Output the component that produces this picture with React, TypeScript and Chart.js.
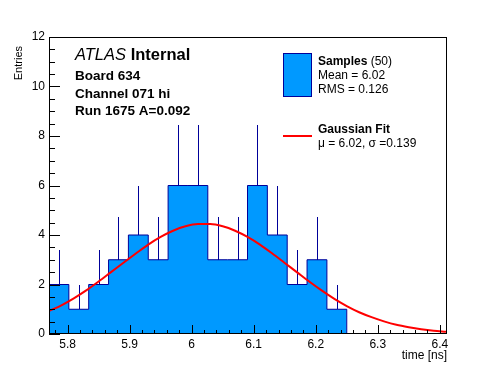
import React, { useEffect, useRef } from "react";
import { Chart, registerables } from "chart.js";

Chart.register(...registerables);

// ---- data ----
const BIN_LOW_EDGES = [5.770, 5.802, 5.834, 5.866, 5.898, 5.930, 5.962, 5.994, 6.026, 6.058, 6.090, 6.122, 6.154, 6.186, 6.218];
const BIN_WIDTH = 0.032;
const BIN_COUNTS = [2, 1, 2, 3, 4, 3, 6, 6, 3, 3, 6, 4, 2, 3, 1];
const BIN_ERRORS = [1.41, 1.0, 1.41, 1.73, 2.0, 1.73, 2.45, 2.45, 1.73, 1.73, 2.45, 2.0, 1.41, 1.73, 1.0];

const FIT_X = [5.77, 5.79, 5.81, 5.83, 5.85, 5.87, 5.89, 5.91, 5.93, 5.95, 5.97, 5.99, 6.01, 6.03, 6.05, 6.07, 6.09, 6.11, 6.13, 6.15, 6.17, 6.19, 6.21, 6.23, 6.25, 6.27, 6.29, 6.31, 6.33, 6.35, 6.37, 6.39, 6.41];
const FIT_Y = [0.93, 1.16, 1.44, 1.76, 2.12, 2.50, 2.88, 3.25, 3.61, 3.92, 4.17, 4.35, 4.44, 4.44, 4.35, 4.17, 3.92, 3.61, 3.25, 2.87, 2.49, 2.11, 1.75, 1.42, 1.13, 0.88, 0.68, 0.51, 0.37, 0.27, 0.19, 0.13, 0.09];

const X_TICKS = [5.8, 5.9, 6.0, 6.1, 6.2, 6.3, 6.4];
const Y_TICKS = [0, 2, 4, 6, 8, 10, 12];
const X_MIN = 5.77;
const X_MAX = 6.41;
const Y_MIN = 0;
const Y_MAX = 12;

const HEADER_LINES = ["Board 634", "Channel 071 hi", "Run 1675 A=0.092"];
const LEGEND_HIST = { name: "Samples", count: "(50)", mean: "Mean = 6.02", rms: "RMS = 0.126" };
const LEGEND_FIT = { name: "Gaussian Fit", params: "\u03BC = 6.02, \u03C3 =0.139" };

const FILL = "#0099ff";
const NAVY = "#000099";
const FONT = "'Liberation Sans', Arial, Helvetica, sans-serif";

const decorPlugin = {
  id: "rootDecor",
  afterDatasetDraw(chart: any, args: any) {
    // error bars drawn just after the histogram (index 2), below the fit curve
    if (args.index !== 2) return;
    const ctx = chart.ctx as CanvasRenderingContext2D;
    const xs = chart.scales.x;
    const ys = chart.scales.y;
    ctx.save();
    ctx.strokeStyle = NAVY;
    ctx.lineWidth = 1;
    ctx.beginPath();
    BIN_COUNTS.forEach((c, i) => {
      const cx = Math.round(xs.getPixelForValue(BIN_LOW_EDGES[i] + BIN_WIDTH / 2)) + 0.5;
      const y0 = Math.round(ys.getPixelForValue(c));
      const y1 = Math.round(ys.getPixelForValue(c + BIN_ERRORS[i]));
      ctx.moveTo(cx, y0);
      ctx.lineTo(cx, y1);
    });
    ctx.stroke();
    ctx.restore();
  },
  afterDraw(chart: any) {
    const ctx = chart.ctx as CanvasRenderingContext2D;
    const { left, right, top, bottom } = chart.chartArea;
    const xs = chart.scales.x;
    const ys = chart.scales.y;
    ctx.save();
    // frame
    ctx.strokeStyle = "#000";
    ctx.lineWidth = 1;
    ctx.strokeRect(left + 0.5, top + 0.5, right - left, bottom - top - 1);
    // x ticks (inside)
    ctx.beginPath();
    for (let i = 0; i <= 32; i++) {
      const v = X_MIN + 0.01 + i * 0.02;
      if (v > X_MAX) break;
      const px = Math.round(xs.getPixelForValue(v)) + 0.5;
      const major = X_TICKS.some((t) => Math.abs(t - v) < 1e-6);
      const len = major ? 9 : 4;
      ctx.moveTo(px, bottom);
      ctx.lineTo(px, bottom - len);
    }
    // y ticks
    for (let i = 0; i <= 24; i++) {
      const v = i * 0.5;
      const py = Math.round(ys.getPixelForValue(v)) + 0.5;
      const major = Y_TICKS.includes(v);
      const len = major ? 11 : 6;
      ctx.moveTo(left, py);
      ctx.lineTo(left + len, py);
    }
    ctx.stroke();

    // axis titles
    ctx.fillStyle = "#000";
    ctx.font = `12px ${FONT}`;
    ctx.textAlign = "right";
    ctx.textBaseline = "alphabetic";
    ctx.fillText("time [ns]", right + 1, 359);
    ctx.save();
    ctx.translate(22, 46);
    ctx.rotate(-Math.PI / 2);
    ctx.font = `11px ${FONT}`;
    ctx.textAlign = "right";
    ctx.fillText("Entries", 0, 0);
    ctx.restore();

    // header
    ctx.textAlign = "left";
    ctx.font = `italic 16.5px ${FONT}`;
    ctx.fillText("ATLAS", 75, 60);
    const w = ctx.measureText("ATLAS ").width;
    ctx.font = `bold 16.5px ${FONT}`;
    ctx.fillText("Internal", 75 + w, 60);
    ctx.font = `bold 13.5px ${FONT}`;
    HEADER_LINES.forEach((t, i) => ctx.fillText(t, 75, 80 + i * 17.5));

    // legend
    ctx.fillStyle = FILL;
    ctx.fillRect(283, 53, 29, 44);
    ctx.strokeStyle = NAVY;
    ctx.strokeRect(283.5, 53.5, 28, 43);
    ctx.fillStyle = "#000";
    ctx.font = `bold 12px ${FONT}`;
    ctx.fillText(LEGEND_HIST.name, 318, 65);
    const w2 = ctx.measureText(LEGEND_HIST.name + " ").width;
    ctx.font = `12px ${FONT}`;
    ctx.fillText(LEGEND_HIST.count, 318 + w2, 65);
    ctx.fillText(LEGEND_HIST.mean, 318, 79);
    ctx.fillText(LEGEND_HIST.rms, 318, 93);

    ctx.strokeStyle = "#ff0000";
    ctx.lineWidth = 2;
    ctx.beginPath();
    ctx.moveTo(283, 136);
    ctx.lineTo(312, 136);
    ctx.stroke();
    ctx.font = `bold 12px ${FONT}`;
    ctx.fillText(LEGEND_FIT.name, 318, 133);
    ctx.font = `12px ${FONT}`;
    ctx.fillText(LEGEND_FIT.params, 318, 147);
    ctx.restore();
  },
};

export default function App() {
  const ref = useRef<HTMLCanvasElement>(null);
  useEffect(() => {
    if (!ref.current) return;
    const n = BIN_COUNTS.length;
    const lastEdge = BIN_LOW_EDGES[n - 1] + BIN_WIDTH;
    const histData: any[] = [{ x: BIN_LOW_EDGES[0], y: 0 }];
    BIN_COUNTS.forEach((c, i) => histData.push({ x: BIN_LOW_EDGES[i], y: c }));
    histData.push({ x: lastEdge, y: BIN_COUNTS[n - 1] });
    histData.push({ x: lastEdge, y: 0 });

    const fitData = FIT_X.map((x, i) => ({ x, y: FIT_Y[i] }));

    Chart.defaults.font.family = FONT;
    const chart = new Chart(ref.current, {
      type: "line",
      data: {
        datasets: [
          {
            label: "fit",
            data: fitData,
            borderColor: "#ff0000",
            borderWidth: 2,
            pointRadius: 0,
            cubicInterpolationMode: "monotone",
            fill: false,
            order: 0,
          } as any,
          {
            label: "unused",
            data: [],
            order: 1,
          } as any,
          {
            label: "hist",
            data: histData,
            borderColor: NAVY,
            borderWidth: 1,
            backgroundColor: FILL,
            pointRadius: 0,
            stepped: true,
            fill: "origin",
            order: 2,
          } as any,
        ],
      },
      options: {
        animation: false,
        responsive: false,
        devicePixelRatio: 1,
        layout: { padding: { left: 0, top: 37, right: 50, bottom: 0 } },
        plugins: { legend: { display: false }, tooltip: { enabled: false } },
        scales: {
          x: {
            type: "linear",
            min: X_MIN,
            max: X_MAX,
            grid: { display: false, drawTicks: false },
            border: { display: false },
            afterBuildTicks: (s: any) => {
              s.ticks = X_TICKS.map((v) => ({ value: v }));
            },
            afterFit: (s: any) => {
              s.height = 38;
            },
            ticks: {
              padding: 3,
              color: "#000",
              font: { size: 12, family: FONT },
              maxRotation: 0,
              autoSkip: false,
              callback: (v: any) => String(Math.round(Number(v) * 10) / 10),
            },
          },
          y: {
            type: "linear",
            min: Y_MIN,
            max: Y_MAX,
            grid: { display: false, drawTicks: false },
            border: { display: false },
            afterBuildTicks: (s: any) => {
              s.ticks = Y_TICKS.map((v) => ({ value: v }));
            },
            afterFit: (s: any) => {
              s.width = 49;
            },
            ticks: {
              padding: 4,
              color: "#000",
              font: { size: 12, family: FONT },
              autoSkip: false,
              callback: (v: any) => String(v),
            },
          },
        },
      },
      plugins: [decorPlugin],
    });
    return () => chart.destroy();
  }, []);

  return (
    <div style={{ position: "absolute", left: 0, top: 0, width: 496, height: 372, background: "#fff" }}>
      <canvas ref={ref} width={496} height={372} style={{ width: 496, height: 372 }} />
    </div>
  );
}
